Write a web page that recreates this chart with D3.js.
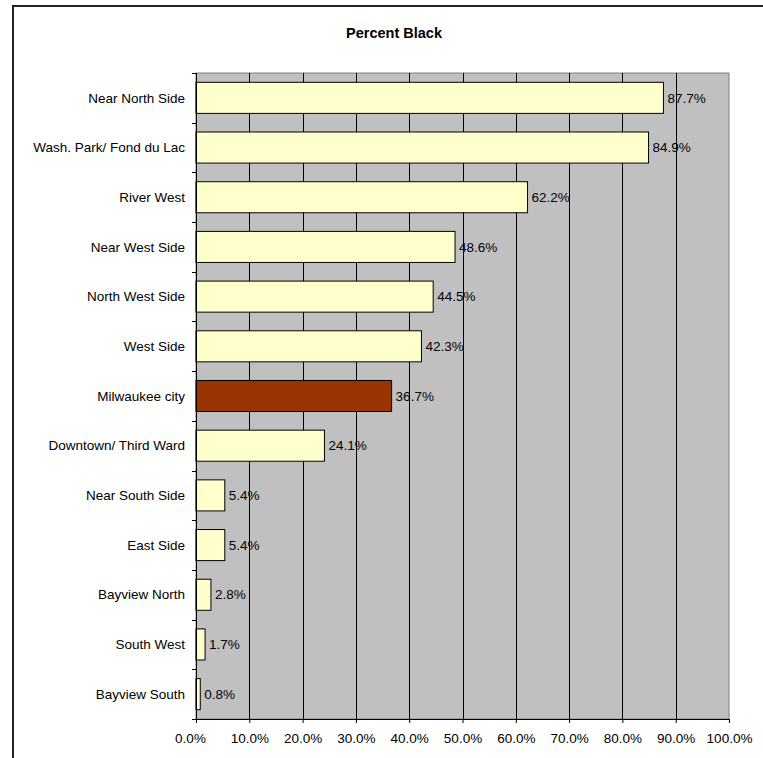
<!DOCTYPE html>
<html>
<head>
<meta charset="utf-8">
<script src="https://cdn.jsdelivr.net/npm/d3@7"></script>
<style>
  html, body { margin: 0; padding: 0; background: #fff; }
  svg { display: block; }
  text { font-family: "Liberation Sans", Arial, sans-serif; }
</style>
</head>
<body>
<svg id="chart" width="763" height="758"></svg>
<script>
const categories = ["Near North Side", "Wash. Park/ Fond du Lac", "River West", "Near West Side",
  "North West Side", "West Side", "Milwaukee city", "Downtown/ Third Ward", "Near South Side",
  "East Side", "Bayview North", "South West", "Bayview South"];
const values = [87.7, 84.9, 62.2, 48.6, 44.5, 42.3, 36.7, 24.1, 5.4, 5.4, 2.8, 1.7, 0.8];
const highlight = ["Milwaukee city"];
const xTicks = [0, 10, 20, 30, 40, 50, 60, 70, 80, 90, 100];
const title = "Percent Black";

const svg = d3.select("#chart");
const pLeft = 196, pRight = 729, pTop = 73, pBottom = 719;
const fs = "13.5px";

// outer chart border (clipped at the right/bottom edges)
svg.append("rect").attr("x", 13).attr("y", 6).attr("width", 800).attr("height", 800)
  .attr("fill", "none").attr("stroke", "#222").attr("stroke-width", 2);

svg.append("text").attr("x", 394).attr("y", 38).attr("text-anchor", "middle")
  .attr("font-size", "14.5px").attr("font-weight", "bold").attr("fill", "#000").text(title);

const x = d3.scaleLinear().domain([0, 100]).range([pLeft, pRight]);
const y = d3.scaleBand().domain(categories).range([pTop, pBottom])
  .paddingInner(0.375).paddingOuter(0.1875);

// plot background
svg.append("rect").attr("x", pLeft).attr("y", pTop).attr("width", pRight - pLeft).attr("height", pBottom - pTop)
  .attr("fill", "#C0C0C0").attr("stroke", "#808080").attr("stroke-width", 1);

// gridlines
svg.append("g").selectAll("line").data(xTicks.filter(d => d > 0 && d < 100)).join("line")
  .attr("x1", d => Math.round(x(d)) + 0.5).attr("x2", d => Math.round(x(d)) + 0.5)
  .attr("y1", pTop).attr("y2", pBottom).attr("stroke", "#000").attr("stroke-width", 1);

// bars
svg.append("g").selectAll("rect").data(categories).join("rect")
  .attr("x", x(0)).attr("y", (d) => y(d))
  .attr("width", (d, i) => x(values[i]) - x(0)).attr("height", y.bandwidth())
  .attr("fill", d => highlight.includes(d) ? "#993300" : "#FFFFCC")
  .attr("stroke", "#000").attr("stroke-width", 1);

// value labels
svg.append("g").selectAll("text").data(categories).join("text")
  .attr("x", (d, i) => x(values[i]) + 4).attr("y", d => y(d) + y.bandwidth() / 2)
  .attr("dy", "0.35em").attr("font-size", fs).attr("fill", "#000")
  .text((d, i) => values[i].toFixed(1) + "%");

// x axis
const xAxis = d3.axisBottom(x).tickValues(xTicks).tickSize(4).tickFormat(d => d.toFixed(1) + "%");
const gx = svg.append("g").attr("transform", `translate(0,${pBottom})`).call(xAxis);
gx.select(".domain").attr("stroke", "#000");
gx.selectAll(".tick line").attr("stroke", "#000");
gx.selectAll(".tick text").attr("font-size", fs).attr("fill", "#000").attr("y", 14)
  .attr("font-family", "Liberation Sans, Arial, sans-serif")
  .attr("dx", d => d === 0 ? -6 : 0);

// y axis: labels and boundary ticks
const gy = svg.append("g");
gy.append("line").attr("x1", pLeft + 0.5).attr("x2", pLeft + 0.5).attr("y1", pTop).attr("y2", pBottom)
  .attr("stroke", "#000");
const boundaries = d3.range(categories.length + 1).map(i => pTop + i * (pBottom - pTop) / categories.length);
gy.selectAll("line.tk").data(boundaries).join("line").attr("class", "tk")
  .attr("x1", pLeft - 4).attr("x2", pLeft).attr("y1", d => Math.round(d) + 0.5).attr("y2", d => Math.round(d) + 0.5)
  .attr("stroke", "#000");
gy.selectAll("text").data(categories).join("text")
  .attr("x", 185).attr("y", d => y(d) + y.bandwidth() / 2).attr("dy", "0.35em")
  .attr("text-anchor", "end").attr("font-size", fs).attr("fill", "#000").text(d => d);
</script>
</body>
</html>
